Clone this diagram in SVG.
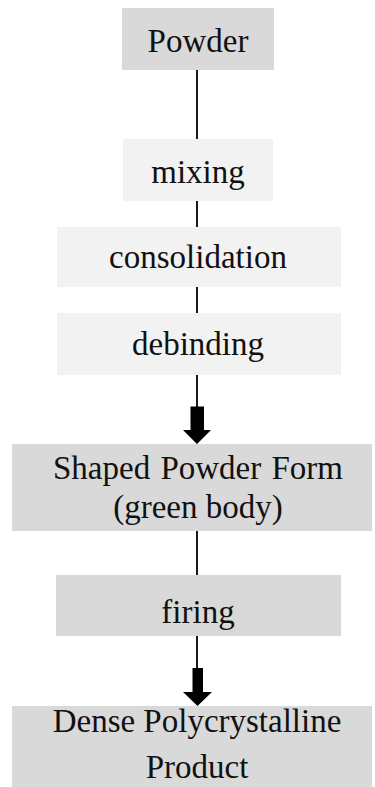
<svg xmlns="http://www.w3.org/2000/svg" width="375" height="787" viewBox="0 0 375 787">
  <style>
    .main { fill: #d9d9d9; }
    .step { fill: #f2f2f2; }
    .lbl { font-family: 'Liberation Serif', 'Times New Roman', serif; font-size: 33px; fill: #111; text-anchor: middle; }
    .link { stroke: #000; stroke-width: 1.8; fill: none; }
    .head { fill: #000; }
  </style>
  <rect width="375" height="787" fill="#fff"/>

  <!-- connectors -->
  <g id="connectors">
    <line class="link" x1="197" y1="70" x2="197" y2="139"/>
    <line class="link" x1="197" y1="201" x2="197" y2="227"/>
    <line class="link" x1="197" y1="287" x2="197" y2="313"/>
    <line class="link" x1="197" y1="375" x2="197" y2="408"/>
    <path class="head" d="M190.5,406.5 H204 V430 H211 L197,444 L183,430 H190.5 Z"/>
    <line class="link" x1="197" y1="531" x2="197" y2="575"/>
    <line class="link" x1="197" y1="636" x2="197" y2="669"/>
    <path class="head" d="M192.5,668 H203 V692 H212 L197.5,706 L183,692 H192.5 Z"/>
  </g>

  <g id="powder">
    <rect class="main" x="122" y="8" width="152" height="62"/>
    <text class="lbl" x="198" y="52">Powder</text>
  </g>

  <g id="mixing">
    <rect class="step" x="123" y="139" width="150" height="62"/>
    <text class="lbl" x="198" y="183">mixing</text>
  </g>

  <g id="consolidation">
    <rect class="step" x="57" y="227" width="284" height="60"/>
    <text class="lbl" x="198" y="268">consolidation</text>
  </g>

  <g id="debinding">
    <rect class="step" x="57" y="313" width="284" height="62"/>
    <text class="lbl" x="198" y="355">debinding</text>
  </g>

  <g id="green-body">
    <rect class="main" x="12" y="444" width="360" height="87"/>
    <text class="lbl" x="198" y="479" word-spacing="2">Shaped Powder Form</text>
    <text class="lbl" x="198" y="518">(green body)</text>
  </g>

  <g id="firing">
    <rect class="main" x="56" y="575" width="285" height="61"/>
    <text class="lbl" x="198" y="623">firing</text>
  </g>

  <g id="product">
    <rect class="main" x="12" y="706" width="360" height="81"/>
    <text class="lbl" x="197" y="732">Dense Polycrystalline</text>
    <text class="lbl" x="197" y="778">Product</text>
  </g>
</svg>
